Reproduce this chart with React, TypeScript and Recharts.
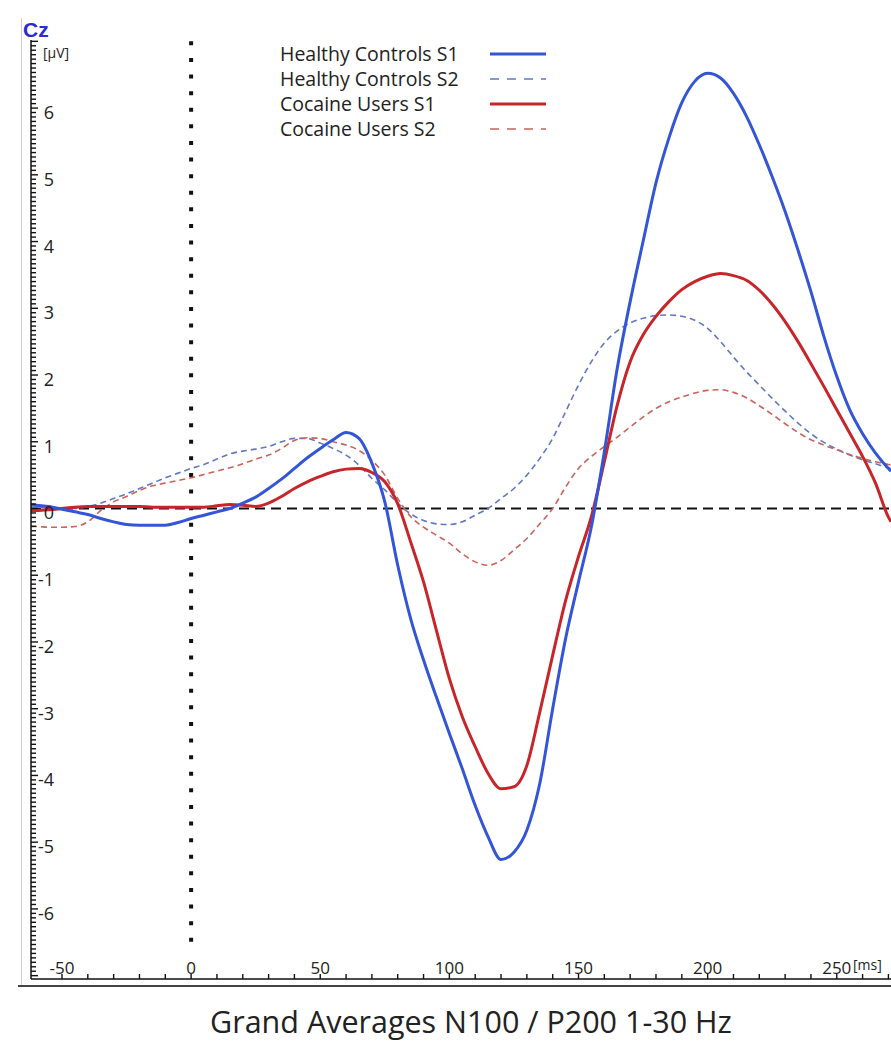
import { LineChart, Line, XAxis, YAxis, ReferenceLine, Legend } from 'recharts';

// time axis in ms
const times = [
  -62, -60, -55, -50, -45, -40, -35, -30, -25, -20, -15, -10, -5, 0, 5, 10, 15, 20, 25, 30,
  35, 40, 45, 50, 55, 60, 65, 70, 75, 80, 85, 90, 95, 100, 105, 110, 115, 120, 125, 130,
  135, 140, 145, 150, 155, 160, 165, 170, 175, 180, 185, 190, 195, 200, 205, 210, 215, 220, 225, 230,
  235, 240, 245, 250, 255, 260, 265, 270, 271,
];

// µV
const healthyS1 = [
  0.06, 0.05, 0.03, -0.01, -0.05, -0.09, -0.15, -0.2, -0.24, -0.25, -0.25, -0.25, -0.21, -0.15, -0.1, -0.05, 0.0, 0.08, 0.17, 0.3,
  0.44, 0.6, 0.76, 0.9, 1.03, 1.14, 1.05, 0.68, 0.1, -0.85, -1.65, -2.27, -2.83, -3.37, -3.9, -4.45, -4.92, -5.26, -5.15, -4.82,
  -4.12, -3.0, -1.95, -1.1, -0.27, 0.85, 2.1, 3.1, 4.0, 4.88, 5.55, 6.08, 6.4, 6.52, 6.45, 6.22, 5.88, 5.45, 4.97, 4.45,
  3.87, 3.25, 2.58, 1.98, 1.48, 1.12, 0.83, 0.6, 0.56,
];

const healthyS2 = [
  0.02, 0.02, 0.0, 0.0, 0.0, 0.03, 0.08, 0.15, 0.22, 0.3, 0.38, 0.46, 0.53, 0.6, 0.66, 0.74, 0.82, 0.86, 0.89, 0.93,
  1.0, 1.05, 1.05, 0.98, 0.9, 0.8, 0.65, 0.45, 0.28, 0.08, -0.08, -0.18, -0.23, -0.24, -0.2, -0.1, 0.0, 0.15, 0.3, 0.5,
  0.75, 1.05, 1.45, 1.85, 2.2, 2.48, 2.66, 2.78, 2.85, 2.89, 2.9, 2.88, 2.82, 2.7, 2.5, 2.27, 2.05, 1.85, 1.65, 1.46,
  1.28, 1.12, 0.99, 0.89, 0.8, 0.73, 0.67, 0.61, 0.6,
];

const cocaineS1 = [
  -0.03, -0.03, -0.02, 0.0, 0.02, 0.03, 0.03, 0.03, 0.03, 0.03, 0.02, 0.02, 0.02, 0.02, 0.02, 0.04, 0.06, 0.05, 0.03, 0.08,
  0.18, 0.3, 0.4, 0.48, 0.55, 0.59, 0.6, 0.54, 0.4, 0.07, -0.5, -1.1, -1.83, -2.55, -3.12, -3.57, -3.97, -4.2, -4.17, -3.85,
  -3.05, -2.2, -1.38, -0.72, -0.12, 0.7, 1.55, 2.2, 2.6, 2.88, 3.1, 3.28, 3.4, 3.48, 3.52, 3.49, 3.42, 3.27, 3.06, 2.8,
  2.5, 2.17, 1.83, 1.48, 1.13, 0.78, 0.38, -0.13, -0.2,
];

const cocaineS2 = [
  -0.27, -0.27, -0.28, -0.28, -0.27, -0.2, -0.03, 0.1, 0.18, 0.27, 0.34, 0.38, 0.42, 0.46, 0.51, 0.56, 0.61, 0.67, 0.74, 0.8,
  0.9, 1.02, 1.06, 1.05, 1.0, 0.95, 0.87, 0.72, 0.5, 0.15, -0.12, -0.28, -0.4, -0.52, -0.68, -0.8, -0.85, -0.78, -0.62, -0.45,
  -0.23, 0.0, 0.32, 0.6, 0.78, 0.93, 1.07, 1.22, 1.37, 1.5, 1.6, 1.67, 1.73, 1.77, 1.78, 1.74, 1.66, 1.54, 1.41, 1.27,
  1.14, 1.03, 0.95, 0.88, 0.81, 0.75, 0.7, 0.66, 0.65,
];

const xTicks = [
  -50, -40, -30, -20, -10, 0, 10, 20, 30, 40, 50, 60, 70, 80, 90, 100, 110, 120, 130, 140,
  150, 160, 170, 180, 190, 200, 210, 220, 230, 240, 250, 260, 270,
];
const xLabels = [-50, 0, 50, 100, 150, 200, 250];
const yLabels = [-6, -5, -4, -3, -2, -1, 0, 1, 2, 3, 4, 5, 6];

// minor ticks on the µV axis, 15 per unit
const yTicks: number[] = [];
for (let i = -105; i <= 105; i++) yTicks.push(i / 15);

const series = [
  { key: 'healthyS1', name: 'Healthy Controls S1', color: '#3355d6', width: 3, dash: undefined },
  { key: 'healthyS2', name: 'Healthy Controls S2', color: '#6277c4', width: 1.6, dash: '6 4' },
  { key: 'cocaineS1', name: 'Cocaine Users S1', color: '#c8252a', width: 3, dash: undefined },
  { key: 'cocaineS2', name: 'Cocaine Users S2', color: '#c9645c', width: 1.6, dash: '6 4' },
];

const data = times.map((t, i) => ({
  t,
  healthyS1: healthyS1[i],
  healthyS2: healthyS2[i],
  cocaineS1: cocaineS1[i],
  cocaineS2: cocaineS2[i],
}));

const FONT = '"Open Sans", "Noto Sans", sans-serif';
const PLOT_LEFT = 31;
const PLOT_BOTTOM = 979;

function YTick(props: any) {
  const { y, payload } = props;
  const v = payload.value;
  const major = Math.abs(v - Math.round(v)) < 1e-6;
  const showLabel = major && yLabels.includes(Math.round(v));
  return (
    <g>
      <line x1={PLOT_LEFT} x2={PLOT_LEFT + (major ? 7 : 5)} y1={y} y2={y} stroke="#111" strokeWidth={1.4} />
      {showLabel && (
        <text x={54} y={y + 4} textAnchor="end" dominantBaseline="central" fontSize={18} fill="#222" fontFamily={FONT}>
          {Math.round(v)}
        </text>
      )}
    </g>
  );
}

function XTick(props: any) {
  const { x, payload } = props;
  const v = payload.value;
  return (
    <g>
      <line x1={x} x2={x} y1={PLOT_BOTTOM} y2={PLOT_BOTTOM - 5} stroke="#111" strokeWidth={1.4} />
      {xLabels.includes(v) && (
        <text x={x} y={PLOT_BOTTOM - 5} textAnchor="middle" fontSize={17} fill="#222" fontFamily={FONT}>
          {v}
        </text>
      )}
    </g>
  );
}

function LegendBox() {
  return (
    <div style={{ fontFamily: FONT, fontSize: 19.5, color: '#222' }}>
      {series.map((s) => (
        <div key={s.key} style={{ display: 'flex', alignItems: 'center', height: 25 }}>
          <span style={{ width: 210, whiteSpace: 'nowrap' }}>{s.name}</span>
          <svg width={58} height={10}>
            <line x1={0} x2={56} y1={5} y2={5} stroke={s.color} strokeWidth={s.width} strokeDasharray={s.dash ? '9 8' : undefined} />
          </svg>
        </div>
      ))}
    </div>
  );
}

export default function App() {
  const drawOrder = [series[1], series[3], series[2], series[0]];
  return (
    <div style={{ position: 'absolute', left: 0, top: 0, width: 891, height: 1050, background: '#fff', overflow: 'hidden' }}>
      <div style={{ position: 'absolute', left: 21, top: 18, width: 1, height: 969, background: '#cfcfcf' }} />
      <div style={{ position: 'absolute', left: 18, top: 985, width: 873, height: 2, background: '#444' }} />
      <LineChart width={891} height={1050} data={data} margin={{ top: 40, right: 0, bottom: 0, left: 0 }}>
        <XAxis
          type="number"
          dataKey="t"
          domain={[-62, 271]}
          allowDataOverflow
          ticks={xTicks}
          interval={0}
          height={71}
          tickLine={false}
          axisLine={{ stroke: '#111', strokeWidth: 1.5 }}
          tick={<XTick />}
        />
        <YAxis
          type="number"
          domain={[-7.05, 7.02]}
          allowDataOverflow
          ticks={yTicks}
          interval={0}
          width={31}
          tickLine={false}
          axisLine={{ stroke: '#111', strokeWidth: 1.5 }}
          tick={<YTick />}
        />
        <ReferenceLine y={0} stroke="#111" strokeWidth={2} strokeDasharray="10 6" />
        <ReferenceLine
          segment={[{ x: 0, y: 7 }, { x: 0, y: -6.5 }]}
          stroke="#111"
          strokeWidth={4}
          strokeDasharray="4 12.6"
        />
        {drawOrder.map((s) => (
          <Line
            key={s.key}
            type="monotone"
            dataKey={s.key}
            name={s.name}
            stroke={s.color}
            strokeWidth={s.width}
            strokeDasharray={s.dash}
            dot={false}
            activeDot={false}
            isAnimationActive={false}
          />
        ))}
        <Legend
          layout="vertical"
          align="center"
          verticalAlign="middle"
          content={<LegendBox />}
          wrapperStyle={{ position: 'absolute', left: 280, top: 41, width: 280 }}
        />
      </LineChart>
      <div style={{ position: 'absolute', left: 23, top: 19, fontFamily: '"Liberation Sans", Arial, sans-serif', fontWeight: 'bold', fontSize: 21, color: '#2a2ad6', lineHeight: '22px' }}>
        Cz
      </div>
      <div style={{ position: 'absolute', left: 43, top: 45, fontFamily: FONT, fontSize: 14, color: '#222', lineHeight: '16px' }}>
        [µV]
      </div>
      <div style={{ position: 'absolute', left: 853, top: 957, fontFamily: FONT, fontSize: 14, color: '#222', lineHeight: '16px' }}>
        [ms]
      </div>
      <div style={{ position: 'absolute', left: 210, top: 1006, fontFamily: FONT, fontSize: 30.5, color: '#222', lineHeight: '30px', whiteSpace: 'nowrap' }}>
        Grand Averages N100 / P200 1-30 Hz
      </div>
    </div>
  );
}
